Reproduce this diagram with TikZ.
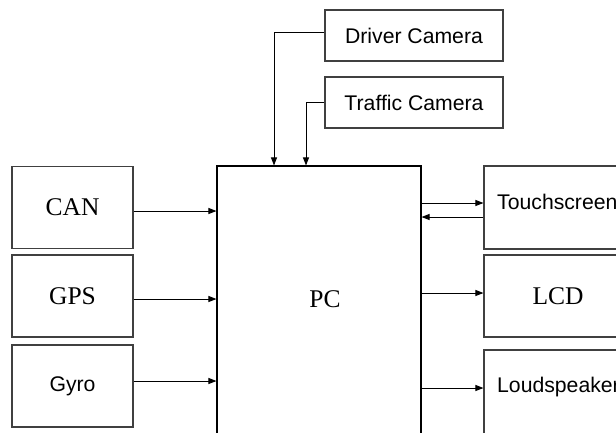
\documentclass[tikz,border=0pt]{standalone}
\usepackage{fontspec}
\setmainfont{Liberation Serif}
\newfontfamily\arialf{Liberation Sans}
\usetikzlibrary{arrows.meta}
\begin{document}
\begin{tikzpicture}[x=1pt,y=-1pt,
  box/.style={draw=black!75,line width=1.1pt,rectangle,inner sep=0pt},
  serift/.style={font=\fontsize{25.5}{28}\selectfont},
  sanst/.style={font=\arialf\fontsize{21.2}{24}\selectfont},
  arr/.style={draw=black,line width=0.9pt,-{Triangle[length=8pt,width=6pt]}}]
\useasboundingbox (0,0) rectangle (616,432);
\clip (0,0) rectangle (616,432);
\fill[white] (0,0) rectangle (616,432);
% left boxes
\node[box,serift,minimum width=121,minimum height=82] (can) at (72.5,207.5) {CAN};
\node[box,serift,minimum width=121,minimum height=82] (gps) at (72.5,296) {GPS};
\node[box,sanst,minimum width=121,minimum height=82] (gyro) at (72.5,386) {Gyro};
% PC
\node[box,draw=black,minimum width=204,minimum height=280] (pc) at (319,306) {};
\node[serift,inner sep=0pt] (pclabel) at (325,299) {PC};
% top boxes
\node[box,sanst,minimum width=178,minimum height=51] (drv) at (414,35.5) {Driver Camera};
\node[box,sanst,minimum width=178,minimum height=51] (trf) at (414,102.5) {Traffic Camera};
% right boxes
\node[box,minimum width=148,minimum height=83] (touch) at (558,207.5) {};
\node[sanst,anchor=west,inner sep=0pt] (touchlabel) at (497,202) {Touchscreen};
\node[box,serift,minimum width=148,minimum height=82] (lcd) at (558,296) {LCD};
\node[box,minimum width=148,minimum height=90] (loud) at (558,395) {};
\node[sanst,anchor=west,inner sep=0pt] (loudlabel) at (497,387) {Loudspeaker};
% connectors
\draw[arr] (can.east |- 0,211) -- (pc.west |- 0,211);
\draw[arr] (gps.east |- 0,299) -- (pc.west |- 0,299);
\draw[arr] (gyro.east |- 0,381) -- (pc.west |- 0,381);
\draw[arr] (drv.west |- 0,32) -| (pc.north -| 274,0);
\draw[arr] (trf.west |- 0,102) -| (pc.north -| 306,0);
\draw[arr] (pc.east |- 0,203) -- (touch.west |- 0,203);
\draw[arr] (touch.west |- 0,217) -- (pc.east |- 0,217);
\draw[arr] (pc.east |- 0,293) -- (lcd.west |- 0,293);
\draw[arr] (pc.east |- 0,388) -- (loud.west |- 0,388);
\end{tikzpicture}
\end{document}
